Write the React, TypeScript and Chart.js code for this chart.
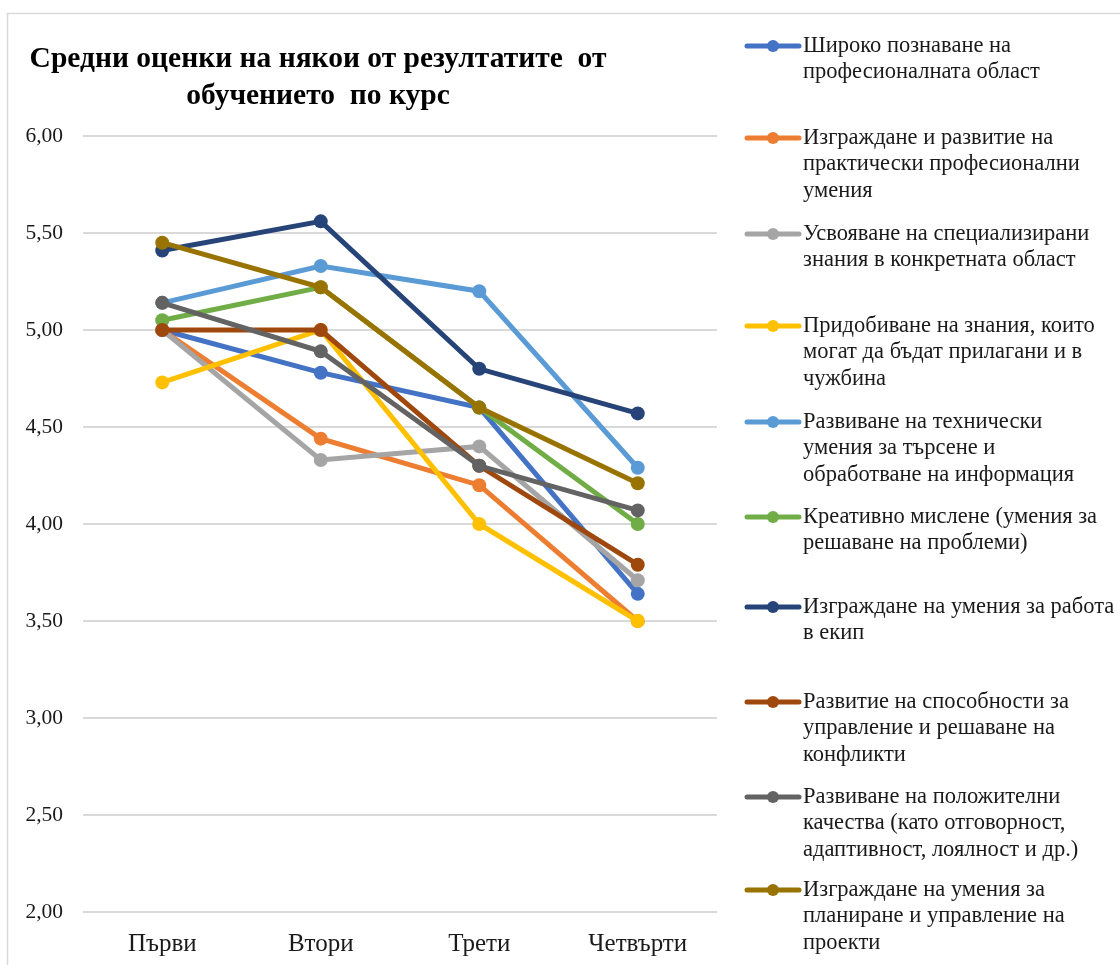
import React, { useEffect, useRef } from "react";
import { Chart, registerables } from "chart.js";

Chart.register(...registerables);

const categories = ["Първи", "Втори", "Трети", "Четвърти"];

const seriesNames = [
  "Широко познаване на\nпрофесионалната област",
  "Изграждане и развитие на\nпрактически професионални\nумения",
  "Усвояване на специализирани\nзнания в конкретната област",
  "Придобиване на знания, които\nмогат да бъдат прилагани и в\nчужбина",
  "Развиване на технически\nумения за търсене и\nобработване на информация",
  "Креативно мислене (умения за\nрешаване на проблеми)",
  "Изграждане на умения за работа\nв екип",
  "Развитие на способности за\nуправление и решаване на\nконфликти",
  "Развиване на положителни\nкачества (като отговорност,\nадаптивност, лоялност и др.)",
  "Изграждане на умения за\nпланиране и управление на\nпроекти",
];

const broadKnowledge = [5.0, 4.78, 4.6, 3.64];
const practicalSkills = [5.0, 4.44, 4.2, 3.5];
const specializedKnowledge = [5.0, 4.33, 4.4, 3.71];
const abroadKnowledge = [4.73, 5.0, 4.0, 3.5];
const technicalSkills = [5.14, 5.33, 5.2, 4.29];
const creativeThinking = [5.05, 5.22, 4.6, 4.0];
const teamwork = [5.41, 5.56, 4.8, 4.57];
const conflictManagement = [5.0, 5.0, 4.3, 3.79];
const positiveQualities = [5.14, 4.89, 4.3, 4.07];
const projectManagement = [5.45, 5.22, 4.6, 4.21];

const seriesValues = [
  broadKnowledge,
  practicalSkills,
  specializedKnowledge,
  abroadKnowledge,
  technicalSkills,
  creativeThinking,
  teamwork,
  conflictManagement,
  positiveQualities,
  projectManagement,
];

const seriesColors = [
  "#4472C4",
  "#ED7D31",
  "#A5A5A5",
  "#FFC000",
  "#5B9BD5",
  "#70AD47",
  "#264478",
  "#9E480E",
  "#636363",
  "#997300",
];

const titleLines = [
  "Средни оценки на някои от резултатите  от",
  "обучението  по курс",
];

const yMin = 2;
const yMax = 6;
const yStep = 0.5;

const SERIF = '"Liberation Serif", "Times New Roman", serif';
const legendRowY = [46, 138, 234, 326, 422, 517, 607, 702, 797, 890];

const decorPlugin = {
  id: "decor",
  beforeDraw(chart: any) {
    const ctx = chart.ctx;
    ctx.save();
    ctx.fillStyle = "#ffffff";
    ctx.fillRect(0, 0, chart.width, chart.height);
    ctx.strokeStyle = "#d9d9d9";
    ctx.lineWidth = 1.5;
    ctx.strokeRect(7.5, 13.5, chart.width + 20, chart.height + 20);
    ctx.restore();
  },
  afterDraw(chart: any) {
    const ctx = chart.ctx;
    ctx.save();
    // title
    ctx.fillStyle = "#000000";
    ctx.font = `bold 29.5px ${SERIF}`;
    ctx.textAlign = "center";
    ctx.textBaseline = "middle";
    ctx.fillText(titleLines[0], 318, 59);
    ctx.fillText(titleLines[1], 318, 96);

    // legend
    chart.data.datasets.forEach((ds: any, i: number) => {
      const y = legendRowY[i];
      ctx.strokeStyle = ds.borderColor;
      ctx.lineWidth = 5;
      ctx.lineCap = "round";
      ctx.beginPath();
      ctx.moveTo(747, y);
      ctx.lineTo(799, y);
      ctx.stroke();
      ctx.fillStyle = ds.borderColor;
      ctx.beginPath();
      ctx.arc(773, y, 6, 0, Math.PI * 2);
      ctx.fill();
      ctx.fillStyle = "#1a1a1a";
      ctx.font = `22.5px ${SERIF}`;
      ctx.textAlign = "left";
      ctx.textBaseline = "middle";
      String(ds.label)
        .split("\n")
        .forEach((line: string, k: number) => {
          ctx.fillText(line, 803, y + k * 26.5);
        });
    });
    ctx.restore();
  },
};

export default function App() {
  const canvasRef = useRef<HTMLCanvasElement | null>(null);

  useEffect(() => {
    const canvas = canvasRef.current;
    if (!canvas) return;
    const n = seriesValues.length;
    const chart = new Chart(canvas, {
      type: "line",
      data: {
        labels: categories,
        datasets: seriesValues.map((vals, i) => ({
          label: seriesNames[i],
          data: vals,
          borderColor: seriesColors[i],
          backgroundColor: seriesColors[i],
          pointBackgroundColor: seriesColors[i],
          pointBorderColor: seriesColors[i],
          pointBorderWidth: 0,
          pointRadius: 7,
          borderWidth: 5,
          tension: 0,
          fill: false,
          order: n - i,
        })),
      },
      options: {
        responsive: false,
        animation: false,
        devicePixelRatio: 1,
        layout: { padding: { top: 136, right: 403, bottom: 0, left: 0 } },
        plugins: {
          legend: { display: false },
          title: { display: false },
          tooltip: { enabled: false },
        },
        scales: {
          x: {
            offset: true,
            grid: { display: false, drawTicks: false },
            border: { display: false },
            ticks: {
              padding: 17,
              color: "#1a1a1a",
              font: { family: SERIF, size: 25 },
            },
            afterFit(scale: any) {
              scale.height = 53;
            },
          },
          y: {
            min: yMin,
            max: yMax,
            grid: { color: "#d9d9d9", lineWidth: 2, drawTicks: false },
            border: { display: false },
            ticks: {
              stepSize: yStep,
              padding: 20,
              color: "#1a1a1a",
              font: { family: SERIF, size: 21.5 },
              callback: (v: any) => Number(v).toFixed(2).replace(".", ","),
            },
            afterFit(scale: any) {
              scale.width = 83;
            },
          },
        },
      },
      plugins: [decorPlugin],
    });
    return () => chart.destroy();
  }, []);

  return (
    <div style={{ position: "absolute", left: 0, top: 0, width: 1120, height: 965 }}>
      <canvas ref={canvasRef} width={1120} height={965} style={{ display: "block" }} />
    </div>
  );
}
